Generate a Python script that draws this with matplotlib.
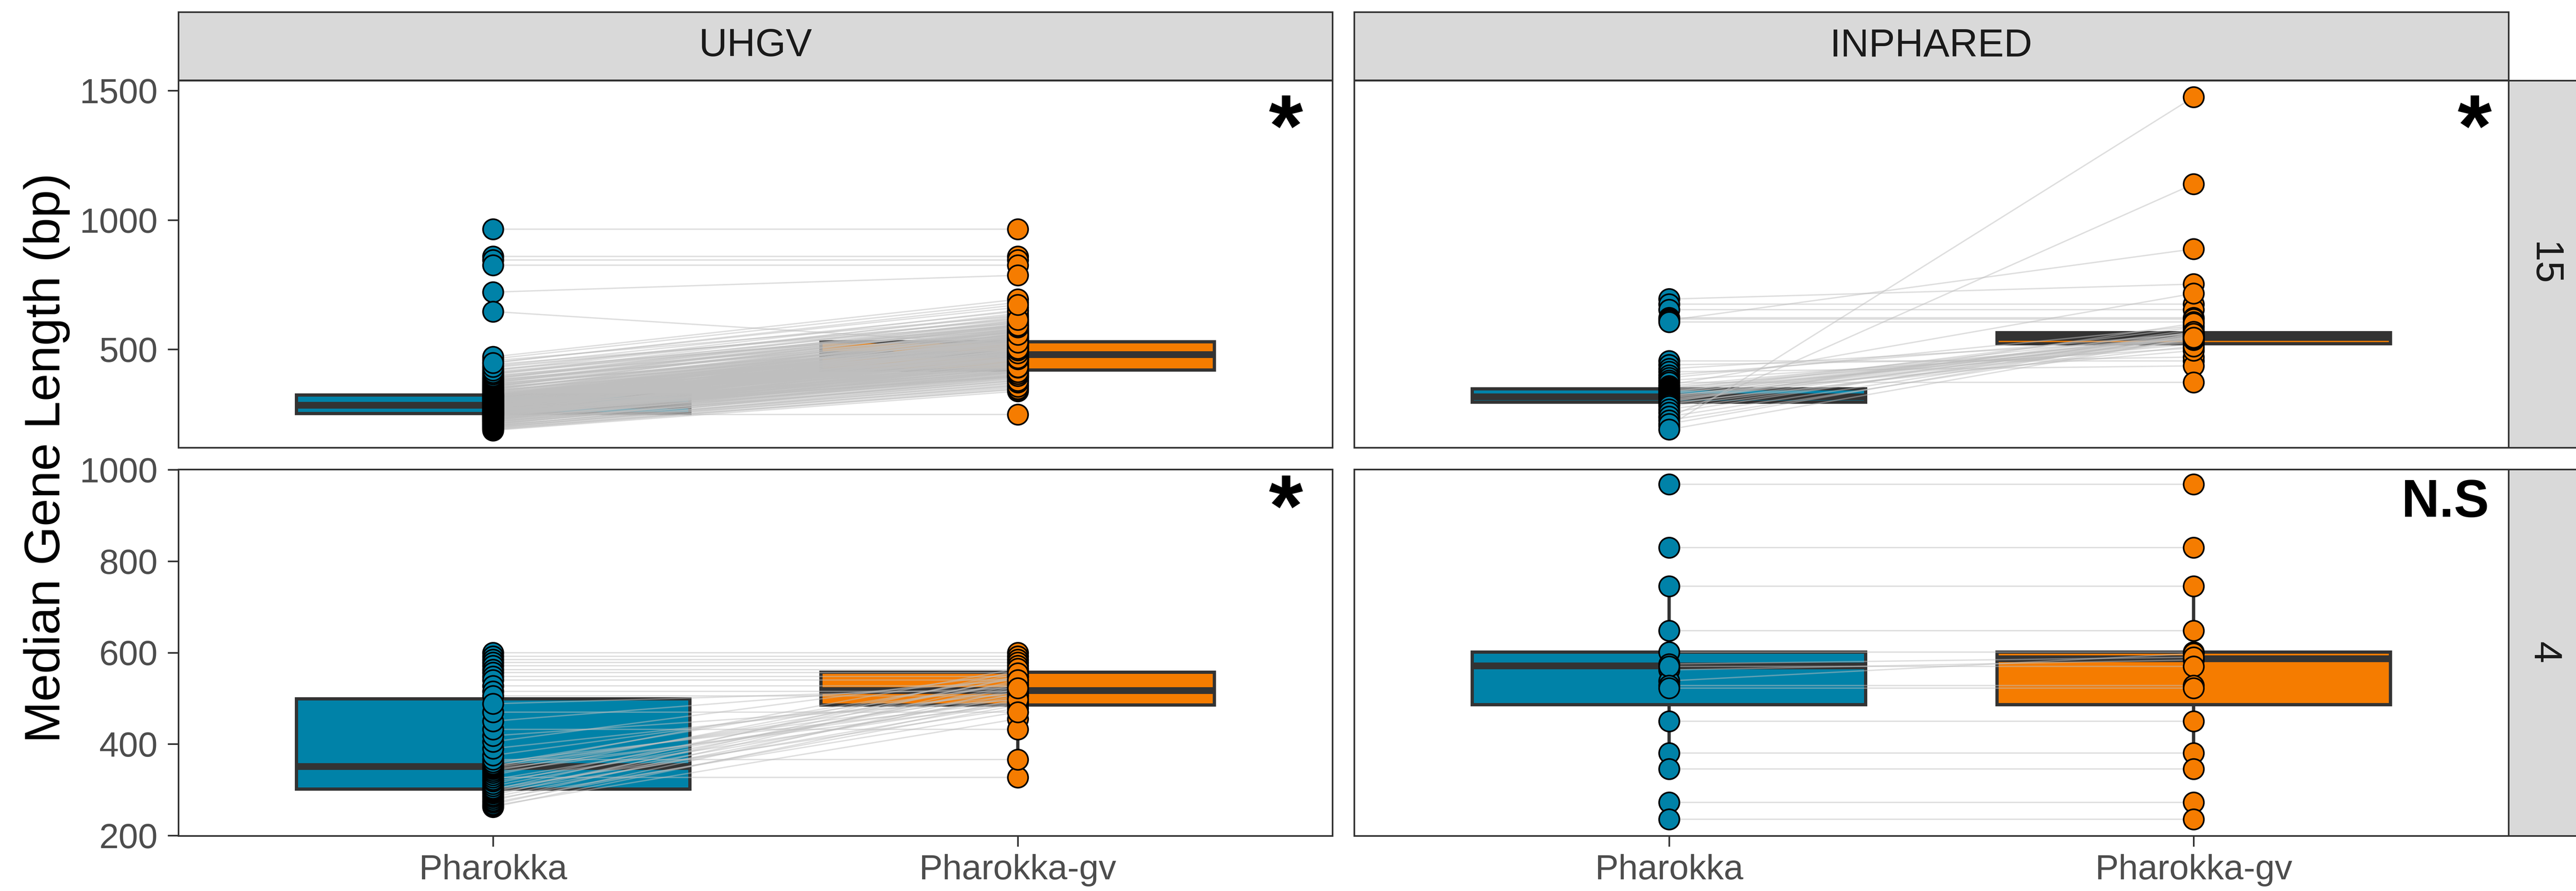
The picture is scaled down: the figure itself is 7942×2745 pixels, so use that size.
import matplotlib
matplotlib.use("Agg")
import matplotlib.pyplot as plt

plt.rcParams['font.family'] = ['Liberation Sans', 'DejaVu Sans']

W, H, DPI = 7942, 2745, 300

categories = ["Pharokka", "Pharokka-gv"]
databases = ["UHGV", "INPHARED"]
row_labels = ["15", "4"]
fill_colors = ["#0082A8", "#F57C00"]

# ---------------- paired values (Pharokka, Pharokka-gv) ----------------
uhgv15_pharokka = [965, 859, 845, 825, 721, 646, 248,
    187, 191, 195, 198, 202, 204, 207, 210, 213, 214, 217, 220, 221, 224, 226, 227, 230, 231, 233, 234,
    236, 238, 239, 240, 242, 243, 244, 245, 246, 247, 248, 249, 250, 251, 251,
    252, 252, 254, 255, 255, 257, 258, 259, 261, 261, 262, 264, 264, 266, 267, 267, 269, 270, 271, 271,
    273, 274, 275, 276, 276, 278, 279, 279, 280, 281, 282, 282, 283, 284, 284,
    285, 286, 287, 288, 289, 290, 292, 292, 293, 295, 296, 297, 298, 299, 301, 302, 303, 304, 305, 307,
    308, 309, 310, 312, 313, 314, 316, 317, 318, 319, 320, 321, 322, 323, 323,
    326, 328, 331, 333, 336, 338, 341, 344, 346, 350, 352, 356, 359, 362, 366, 369, 373, 377, 381, 385,
    389, 393, 398, 402, 407, 412, 417, 423, 429, 436, 442, 449, 456, 463, 471,
    189, 193, 197, 200, 203, 206, 209, 212, 216, 219, 222, 225, 228, 229, 232, 234, 237, 238, 241, 243,
    245, 246, 247, 249, 250, 250, 251,
    253, 253, 254, 256, 256, 258, 259, 260, 260, 262, 263, 265, 266, 268, 268, 270, 272, 272, 274, 275,
    277, 277, 279, 280, 281, 282, 283, 284,
    285, 286, 288, 289, 290, 291, 293, 294, 295, 297, 298, 300, 301, 303, 304, 306, 307, 309, 311, 312,
    314, 315, 317, 318, 320, 321, 322, 323,
    325, 327, 330, 332, 335, 339, 342, 345, 348, 351, 354, 357, 361, 364, 368, 371, 375, 379, 383, 387,
    391, 396, 404, 410, 419, 433, 447]
uhgv15_gv = [965, 859, 845, 825, 786, 517, 248,
    338, 352, 345, 371, 360, 389, 366, 402, 377, 395, 410, 384, 421, 398, 433, 405, 415, 447, 392, 428,
    461, 409, 437, 452, 418, 470, 441, 426, 456, 399, 482, 436, 464, 412, 449,
    425, 461, 398, 487, 442, 470, 416, 503, 451, 479, 433, 512, 466, 394, 495, 448, 521, 474, 437, 500,
    458, 531, 482, 419, 508, 463, 540, 489, 446, 516, 472, 497, 529, 455, 486,
    468, 502, 443, 527, 481, 514, 459, 541, 493, 475, 533, 507, 452, 548, 488, 520, 471, 556, 498, 536,
    463, 512, 545, 484, 528, 561, 505, 477, 539, 519, 552, 494, 568, 530, 511,
    523, 548, 506, 571, 535, 559, 517, 584, 543, 566, 529, 592, 555, 578, 541, 603, 569, 587, 552, 612,
    580, 596, 564, 621, 589, 607, 633, 575, 618, 647, 600, 662, 628, 681, 693,
    347, 362, 381, 356, 394, 372, 415, 388, 403, 431, 379, 446, 411, 424, 459, 397, 438, 472, 419, 451,
    405, 488, 433, 467, 442, 501, 426,
    447, 412, 493, 459, 430, 518, 476, 441, 502, 465, 526, 484, 452, 511, 437, 495, 547, 468, 515, 480,
    431, 536, 499, 462, 523, 490, 553, 477,
    491, 524, 470, 549, 505, 462, 537, 483, 519, 571, 497, 531, 476, 558, 512, 489, 544, 527, 466, 579,
    503, 538, 562, 485, 526, 549, 497, 574,
    539, 512, 562, 528, 581, 547, 503, 575, 558, 533, 597, 567, 548, 589, 526, 610, 572, 594, 557, 626,
    585, 604, 639, 592, 651, 614, 672]

inphared15_pharokka = [694, 674, 653, 622, 617, 612, 605, 204, 237, 362,
    455, 440, 425, 413, 400, 390, 380, 372, 358, 352, 347, 343, 340, 336, 333, 330, 327, 323,
    320, 317, 314, 311, 307, 303, 300, 296, 292, 287, 280, 268, 255, 240, 226, 212, 190]
inphared15_gv = [752, 674, 653, 622, 617, 888, 605, 1475, 1139, 716,
    455, 470, 540, 436, 560, 590, 505, 372, 545, 530, 565, 552, 520, 548, 585, 540, 556, 495,
    547, 563, 535, 551, 528, 575, 544, 600, 512, 558, 537, 549, 568, 553, 542, 561, 545]

uhgv4_pharokka = [600, 592, 585, 578, 571, 563, 556, 548, 540, 527, 515, 505,
    262, 265, 268, 272, 276, 280, 284, 288, 292, 295, 298, 300,
    303, 308, 313, 318, 322, 327, 332, 337, 341, 345, 348, 350,
    353, 356, 360, 366, 375, 390, 405, 418, 432, 450, 470, 488]
uhgv4_gv = [600, 592, 585, 578, 571, 563, 556, 548, 540, 527, 515, 505,
    498, 455, 520, 485, 540, 470, 510, 548, 490, 530, 505, 560,
    478, 525, 545, 492, 515, 327, 553, 500, 535, 487, 520, 565,
    508, 548, 493, 366, 530, 512, 555, 497, 432, 540, 470, 522]

inphared4_pharokka = [968, 830, 745, 648, 601, 562, 538, 575, 570, 528, 522, 450, 380, 345, 272, 235]
inphared4_gv = [968, 830, 745, 648, 601, 584, 598, 590, 570, 528, 522, 450, 380, 345, 272, 235]

# ---------------- box statistics (whislo, q1, median, q3, whishi) ----------------
box_uhgv15 = [[187, 252, 284, 323, 429], [338, 420, 480, 529, 690]]
box_inphared15 = [[226, 296, 317, 347, 413], [470, 521, 546, 564, 622]]
box_uhgv4 = [[262, 301, 351, 499, 600], [377, 485, 517, 557, 600]]
box_inphared4 = [[345, 486, 571, 601, 745], [345, 486, 587, 601, 745]]

significance = {("UHGV", "15"): "*", ("INPHARED", "15"): "*",
                ("UHGV", "4"): "*", ("INPHARED", "4"): "N.S"}

panels = {
    ("UHGV", "15"): (uhgv15_pharokka, uhgv15_gv, box_uhgv15),
    ("INPHARED", "15"): (inphared15_pharokka, inphared15_gv, box_inphared15),
    ("UHGV", "4"): (uhgv4_pharokka, uhgv4_gv, box_uhgv4),
    ("INPHARED", "4"): (inphared4_pharokka, inphared4_gv, box_inphared4),
}

row_ylim = {"15": (120, 1539), "4": (199, 1001)}
row_yticks = {"15": [500, 1000, 1500], "4": [200, 400, 600, 800, 1000]}

# ---------------- layout (pixels) ----------------
col_x = [(550, 4108), (4175, 7734)]
row_y = [(248, 1379), (1446, 2575)]
strip_top = (37, 247)
strip_right = (7734, 7950)

EDGE = '#333333'
fig = plt.figure(figsize=(W / DPI, H / DPI), dpi=DPI)
fig.patch.set_facecolor('white')


def add_ax(x0, y0, x1, y1):
    return fig.add_axes([x0 / W, 1 - y1 / H, (x1 - x0) / W, (y1 - y0) / H])


def style_strip(ax, text, rot):
    ax.set_facecolor('#D9D9D9')
    ax.set_xticks([])
    ax.set_yticks([])
    for s in ax.spines.values():
        s.set_color(EDGE)
        s.set_linewidth(1.2)
    ax.text(0.5, 0.5, text, transform=ax.transAxes, ha='center', va='center',
            rotation=rot, fontsize=29, color='#1A1A1A')


for ci, db in enumerate(databases):
    sax = add_ax(col_x[ci][0], strip_top[0], col_x[ci][1], strip_top[1])
    style_strip(sax, db, 0)

for ri, rl in enumerate(row_labels):
    sax = add_ax(strip_right[0], row_y[ri][0], strip_right[1], row_y[ri][1])
    style_strip(sax, rl, -90)

annot_pos = {("UHGV", "15"): (0.9595, 0.857), ("INPHARED", "15"): (0.9705, 0.857),
             ("UHGV", "4"): (0.9595, 0.881), ("INPHARED", "4"): (0.945, 0.908)}

for ri, rl in enumerate(row_labels):
    for ci, db in enumerate(databases):
        ax = add_ax(col_x[ci][0], row_y[ri][0], col_x[ci][1], row_y[ri][1])
        p_vals, g_vals, bstats = panels[(db, rl)]
        stats = []
        for b in bstats:
            stats.append(dict(whislo=b[0], q1=b[1], med=b[2], q3=b[3], whishi=b[4], fliers=[]))
        bp = ax.bxp(stats, positions=[1, 2], widths=0.75, patch_artist=True,
                    showcaps=False, showfliers=False,
                    boxprops=dict(edgecolor=EDGE, linewidth=2.4),
                    medianprops=dict(color=EDGE, linewidth=5.0, solid_capstyle='butt'),
                    whiskerprops=dict(color=EDGE, linewidth=2.4),
                    manage_ticks=False, zorder=1)
        for patch, fc in zip(bp['boxes'], fill_colors):
            patch.set_facecolor(fc)
        for p, g in zip(p_vals, g_vals):
            ax.plot([1, 2], [p, g], color='#BEBEBE', alpha=0.5, linewidth=1.0, zorder=2)
        ax.scatter([1] * len(p_vals), p_vals, s=225, color=fill_colors[0],
                   edgecolors='black', linewidths=1.2, zorder=3)
        ax.scatter([2] * len(g_vals), g_vals, s=225, color=fill_colors[1],
                   edgecolors='black', linewidths=1.2, zorder=3)

        ax.set_xlim(0.4, 2.6)
        ax.set_ylim(*row_ylim[rl])
        for s in ax.spines.values():
            s.set_color(EDGE)
            s.set_linewidth(1.2)
        ax.set_xticks([1, 2])
        ax.set_yticks(row_yticks[rl])
        ax.tick_params(axis='both', length=7.9, width=1.2, color=EDGE,
                       labelsize=26, labelcolor='#4D4D4D')
        ax.tick_params(axis='y', pad=7.4)
        ax.tick_params(axis='x', pad=5.5)
        if ri == 1:
            ax.set_xticklabels(categories)
        else:
            ax.tick_params(axis='x', length=0, labelbottom=False)
        if ci == 1:
            ax.tick_params(axis='y', length=0, labelleft=False)

        txt = significance[(db, rl)]
        ax_x, ax_y = annot_pos[(db, rl)]
        ax.text(ax_x, ax_y, txt, transform=ax.transAxes, ha='center', va='center',
                fontsize=65 if txt == '*' else 39, fontweight='bold', color='black', zorder=5)

fig.text(144 / W, 1 - 1411 / H, "Median Gene Length (bp)", rotation=90,
         ha='center', va='center', fontsize=37, color='black')

fig.savefig("out.png", dpi=DPI, facecolor='white')
